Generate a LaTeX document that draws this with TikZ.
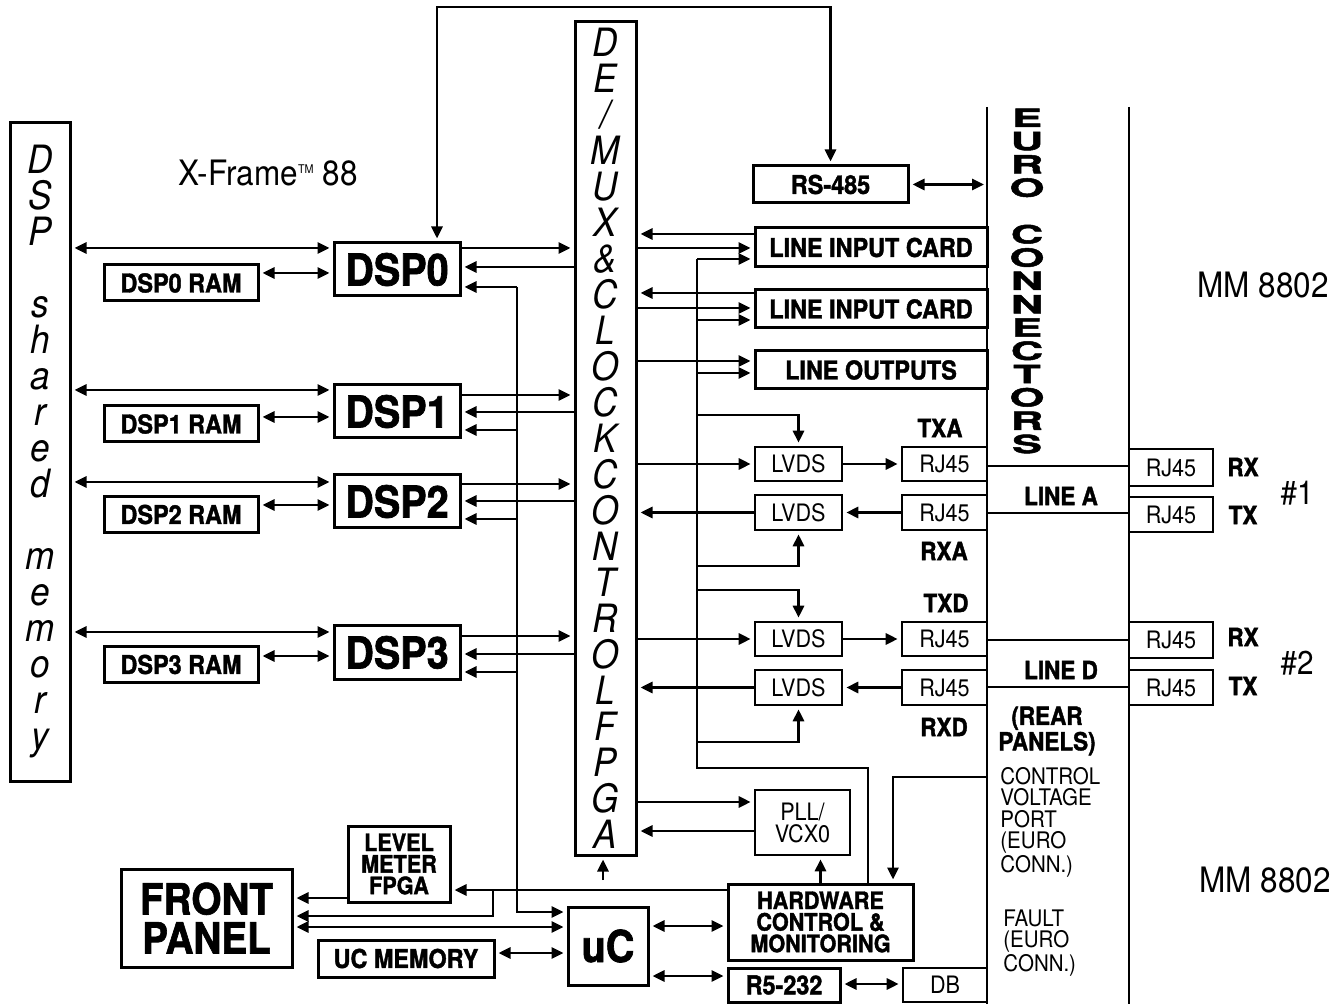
\documentclass[tikz,border=0pt]{standalone}
\usepackage{fontspec}
\setmainfont{TeX Gyre Heros}
\newfontfamily\cnd{TeX Gyre Heros}[FakeStretch=0.9]
\newfontfamily\blk{TeX Gyre Heros}[FakeStretch=0.9,BoldFeatures={FakeBold=1.5}]
\newfontfamily\wde{TeX Gyre Heros}[FakeStretch=1.8,BoldFeatures={FakeBold=2}]
\usetikzlibrary{arrows.meta, positioning, calc}

\begin{document}
\begin{tikzpicture}[
    x=0.5pt, y=-0.5pt,                % <── one unit = one pixel of the sketch
    >={Triangle[length=6pt,width=5.5pt,sep=1.5pt]},
    bigblock/.style={draw, line width=1.5pt, inner sep=0pt, align=center,
        font=\blk\bfseries\fontsize{22}{18.5}\selectfont},
    block/.style={draw, line width=1.5pt, inner sep=0pt, align=center,
        font=\blk\bfseries\fontsize{13}{10.5}\selectfont},
    stack/.style={block, font=\blk\bfseries\fontsize{12}{10.8}\selectfont},
    cell/.style={draw, line width=1.3pt, inner sep=0pt, align=center,
        font=\cnd\fontsize{12}{11}\selectfont},
    column/.style={draw, line width=1.5pt, inner sep=0pt, align=center,
        font=\cnd\itshape\fontsize{19.5}{18}\selectfont},
    tag/.style={inner sep=0pt, align=center,
        font=\blk\bfseries\fontsize{12.5}{11}\selectfont},
    note/.style={inner sep=0pt, align=left,
        font=\cnd\fontsize{11.4}{10.75}\selectfont},
    title/.style={inner sep=0pt, font=\cnd\fontsize{17.5}{17.5}\selectfont},
    link/.style={line width=1.4pt}
    ]
    \useasboundingbox (0,0) rectangle (1343,1004);

    % Tall columns
    \node[column, minimum width=30pt, minimum height=329pt] (sharedmem) at (40,452)
        {D\\S\\P\\\mbox{}\\s\\h\\a\\r\\e\\d\\\mbox{}\\m\\e\\m\\o\\r\\y};
    \node[column, minimum width=30.5pt, minimum height=416.5pt] (fpga) at (605.5,438.5)
        {D\\E\\/\\M\\U\\X\\\&\\C\\L\\O\\C\\K\\C\\O\\N\\T\\R\\O\\L\\F\\P\\G\\A};

    % DSPs and their RAMs
    \node[bigblock, minimum width=63pt, minimum height=26.5pt] (dsp0) at (397,269.5) {DSP0};
    \node[bigblock, minimum width=63pt, minimum height=26.5pt] (dsp1) at (397,411.5) {DSP1};
    \node[bigblock, minimum width=63pt, minimum height=26.5pt] (dsp2) at (397,501.5) {DSP2};
    \node[bigblock, minimum width=63pt, minimum height=26.5pt] (dsp3) at (397,652.5) {DSP3};
    \node[block, minimum width=77pt, minimum height=18pt] (ram0) at (181,283) {DSP0 RAM};
    \node[block, minimum width=77pt, minimum height=18pt] (ram1) at (181,424) {DSP1 RAM};
    \node[block, minimum width=77pt, minimum height=18pt] (ram2) at (181,514.5) {DSP2 RAM};
    \node[block, minimum width=77pt, minimum height=18pt] (ram3) at (181,664.5) {DSP3 RAM};

    % Cards on the right of the FPGA
    \node[block, minimum width=77.5pt, minimum height=18.5pt] (rs485) at (830.5,184.5) {RS-485};
    \node[block, minimum width=116pt, minimum height=19.5pt] (lic1) at (871,247.5) {LINE INPUT CARD};
    \node[block, minimum width=116pt, minimum height=19pt] (lic2) at (871,309) {LINE INPUT CARD};
    \node[block, minimum width=116pt, minimum height=19pt] (lineout) at (871,370) {LINE OUTPUTS};

    % LVDS / RJ45 chains
    \node[cell, minimum width=43.5pt, minimum height=17pt] (lvdsta) at (798.5,464) {LVDS};
    \node[cell, minimum width=43.5pt, minimum height=17.5pt] (lvdsra) at (798.5,512.5) {LVDS};
    \node[cell, minimum width=43.5pt, minimum height=17pt] (lvdstd) at (798.5,639) {LVDS};
    \node[cell, minimum width=43.5pt, minimum height=17.5pt] (lvdsrd) at (798.5,687.5) {LVDS};
    \node[cell, minimum width=42.5pt, minimum height=17pt] (rjta) at (944.5,464) {RJ45};
    \node[cell, minimum width=42.5pt, minimum height=17.5pt] (rjra) at (944.5,512.5) {RJ45};
    \node[cell, minimum width=42.5pt, minimum height=17pt] (rjtd) at (944.5,639) {RJ45};
    \node[cell, minimum width=42.5pt, minimum height=17.5pt] (rjrd) at (944.5,687.5) {RJ45};
    \node[cell, minimum width=42pt, minimum height=18.5pt] (rx1) at (1171,467.5) {RJ45};
    \node[cell, minimum width=42pt, minimum height=17.5pt] (tx1) at (1171,514.5) {RJ45};
    \node[cell, minimum width=42pt, minimum height=18pt] (rx2) at (1171,640) {RJ45};
    \node[cell, minimum width=42pt, minimum height=17.5pt] (tx2) at (1171,687.5) {RJ45};

    % Bottom blocks
    \node[cell, minimum width=47.5pt, minimum height=32.5pt] (pll) at (802.5,822.5) {PLL/\\VCX0};
    \node[stack, minimum width=92.5pt, minimum height=38pt] (hw) at (820.5,922)
        {HARDWARE\\CONTROL \&\\MONITORING};
    \node[block, minimum width=56pt, minimum height=17pt] (rs232) at (784,985) {R5-232};
    \node[cell, minimum width=42pt, minimum height=17pt] (db) at (945,985) {DB};
    \node[bigblock, minimum width=40pt, minimum height=39pt] (uc) at (608,946) {uC};
    \node[block, minimum width=88pt, minimum height=18.5pt] (ucmem) at (406,958.5) {UC MEMORY};
    \node[bigblock, minimum width=85.5pt, minimum height=49pt,
        font=\blk\bfseries\fontsize{21.5}{19.5}\selectfont] (front) at (206.5,918) {FRONT\\PANEL};
    \node[stack, minimum width=51pt, minimum height=38pt] (level) at (399,864) {LEVEL\\METER\\FPGA};

    % Connector rails
    \coordinate (euroA) at (987,107);
    \coordinate (euroAend) at (987,1004);
    \coordinate (euroB) at (1129,107);
    \coordinate (euroBend) at (1129,1004);
    \draw[link] (euroA) -- (euroAend);
    \draw[link] (euroB) -- (euroBend);
    \node[inner sep=0pt, align=center, font=\wde\bfseries\fontsize{12.5}{11.65}\selectfont] (euro)
        at (1027,281) {E\\U\\R\\O\\\mbox{}\\C\\O\\N\\N\\E\\C\\T\\O\\R\\S};

    % Texts
    \node[title] (xframe) at (268,173)
        {X-Frame{\fontsize{6}{6}\selectfont\raisebox{6pt}{TM}} 88};
    \node[title] (mm1) at (1263,285) {MM 8802};
    \node[title] (mm2) at (1265,880) {MM 8802};
    \node[tag] (txa) at (940,428) {TXA};
    \node[tag] (rxa) at (944,551) {RXA};
    \node[tag] (txd) at (946,603) {TXD};
    \node[tag] (rxd) at (944,727) {RXD};
    \node[tag] (linea) at (1061,496) {LINE A};
    \node[tag] (lined) at (1061,670) {LINE D};
    \node[tag] (rx1l) at (1243,467) {RX};
    \node[tag] (tx1l) at (1243,515) {TX};
    \node[tag] (rx2l) at (1243,637) {RX};
    \node[tag] (tx2l) at (1243,686) {TX};
    \node[title, font=\cnd\fontsize{16.5}{16.5}\selectfont] (num1) at (1297,493) {\#1};
    \node[title, font=\cnd\fontsize{16.5}{16.5}\selectfont] (num2) at (1297,663) {\#2};
    \node[tag] (rear) at (1047,731) {(REAR\\PANELS)};
    \node[note, anchor=north west] (cvport) at (1000,767) {CONTROL\\VOLTAGE\\PORT\\(EURO\\CONN.)};
    \node[note, anchor=north west] (fault) at (1003,909) {FAULT\\(EURO\\CONN.)};

    % Shared memory and RAM links
    \draw[link,<->] (sharedmem.east |- 0,248) -- (dsp0.west |- 0,248);
    \draw[link,<->] (sharedmem.east |- 0,390) -- (dsp1.west |- 0,390);
    \draw[link,<->] (sharedmem.east |- 0,482) -- (dsp2.west |- 0,482);
    \draw[link,<->] (sharedmem.east |- 0,632) -- (dsp3.west |- 0,632);
    \draw[link,<->] (ram0.east |- 0,273) -- (dsp0.west |- 0,273);
    \draw[link,<->] (ram1.east |- 0,417) -- (dsp1.west |- 0,417);
    \draw[link,<->] (ram2.east |- 0,505) -- (dsp2.west |- 0,505);
    \draw[link,<->] (ram3.east |- 0,656) -- (dsp3.west |- 0,656);

    % DSPs to FPGA
    \draw[link,->] (dsp0.east |- 0,248) -- (fpga.west |- 0,248);
    \draw[link,<-] (dsp0.east |- 0,267) -- (fpga.west |- 0,267);
    \draw[link,->] (dsp1.east |- 0,395) -- (fpga.west |- 0,395);
    \draw[link,<-] (dsp1.east |- 0,412) -- (fpga.west |- 0,412);
    \draw[link,->] (dsp2.east |- 0,484) -- (fpga.west |- 0,484);
    \draw[link,<-] (dsp2.east |- 0,501) -- (fpga.west |- 0,501);
    \draw[link,->] (dsp3.east |- 0,636) -- (fpga.west |- 0,636);
    \draw[link,<-] (dsp3.east |- 0,654) -- (fpga.west |- 0,654);

    % uC bus to the DSPs
    \coordinate (busB) at (517,287);
    \draw[link,->] (busB) |- (uc.west |- 0,912);
    \draw[link,->] (busB) -- (dsp0.east |- busB);
    \draw[link,->] (busB |- 0,430) -- (dsp1.east |- 0,430);
    \draw[link,->] (busB |- 0,519) -- (dsp2.east |- 0,519);
    \draw[link,->] (busB |- 0,672) -- (dsp3.east |- 0,672);

    % DSP0 to RS-485 loop
    \draw[link,<->] (dsp0.north -| 437,0) -- (437,7) -| (rs485.north);
    \draw[link,<->] (rs485.east) -- (rs485.east -| euroA);

    % FPGA to cards
    \draw[link,<-] (fpga.east |- 0,234) -- (lic1.west |- 0,234);
    \draw[link,->] (fpga.east |- 0,248) -- (lic1.west |- 0,248);
    \draw[link,<-] (fpga.east |- 0,293) -- (lic2.west |- 0,293);
    \draw[link,->] (fpga.east |- 0,308) -- (lic2.west |- 0,308);
    \draw[link,->] (fpga.east |- 0,361) -- (lineout.west |- 0,361);
    \draw[link,->] (fpga.east |- lvdsta) -- (lvdsta.west);
    \draw[link,<-] (fpga.east |- lvdsra) -- (lvdsra.west);
    \draw[link,->] (fpga.east |- lvdstd) -- (lvdstd.west);
    \draw[link,<-] (fpga.east |- lvdsrd) -- (lvdsrd.west);
    \draw[link,->] (fpga.east |- 0,802) -- (pll.west |- 0,802);
    \draw[link,<-] (fpga.east |- 0,831) -- (pll.west |- 0,831);

    % Control bus
    \coordinate (busA) at (697,259);
    \draw[link] (busA) -- (busA |- 0,768) -| ([xshift=23.75pt]hw.north);
    \draw[link,->] (busA) -- (lic1.west |- busA);
    \draw[link,->] (busA |- 0,320) -- (lic2.west |- 0,320);
    \draw[link,->] (busA |- 0,373) -- (lineout.west |- 0,373);
    \draw[link,->] (busA |- 0,415) -| (lvdsta.north);
    \draw[link,->] (busA |- 0,566) -| (lvdsra.south);
    \draw[link,->] (busA |- 0,590) -| (lvdstd.north);
    \draw[link,->] (busA |- 0,742) -| (lvdsrd.south);

    % LVDS to RJ45 and the lines
    \draw[link,->] (lvdsta) -- (rjta);
    \draw[link,<-] (lvdsra) -- (rjra);
    \draw[link,->] (lvdstd) -- (rjtd);
    \draw[link,<-] (lvdsrd) -- (rjrd);
    \draw[link] (rjta.east |- 0,466) -- (rx1.west |- 0,466);
    \draw[link] (rjra.east |- 0,513) -- (tx1.west |- 0,513);
    \draw[link] (rjtd.east |- 0,640) -- (rx2.west |- 0,640);
    \draw[link] (rjrd.east |- 0,687) -- (tx2.west |- 0,687);

    % Hardware control
    \draw[link,->] (hw.north) -- (hw.north |- pll.south);
    \draw[link,->] (euroA |- 0,777) -| ([xshift=36.25pt]hw.north);
    \coordinate (fpgain) at (603,880);
    \draw[link,->] (fpgain) -- (fpgain |- fpga.south);
    \coordinate (fork) at (493,890);
    \draw[link,->] (hw.west |- fork) -- (level.east |- fork);
    \draw[link,->] (fork) |- (front.east |- 0,916);
    \draw[link,->] (level.west |- 0,898) -- (front.east |- 0,898);
    \draw[link,<->] (front.east |- 0,927) -- (uc.west |- 0,927);
    \draw[link,<->] (ucmem.east |- 0,953) -- (uc.west |- 0,953);
    \draw[link,<->] (uc.east |- 0,926) -- (hw.west |- 0,926);
    \draw[link,<->] (uc.east |- 0,976) -- (rs232.west |- 0,976);
    \draw[link,<->] (rs232.east |- 0,984) -- (db.west |- 0,984);
\end{tikzpicture}
\end{document}
